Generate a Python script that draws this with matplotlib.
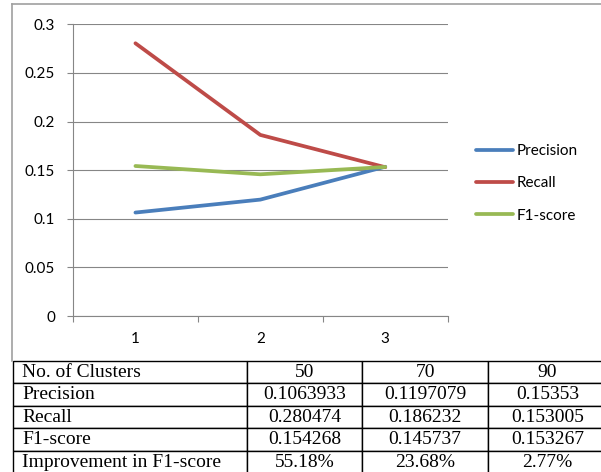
import matplotlib
matplotlib.use('Agg')
import matplotlib.pyplot as plt
from matplotlib.lines import Line2D

# dados
pontos_x = [1, 2, 3]
clusters = ['50', '70', '90']
precisao = [0.1063933, 0.1197079, 0.15353]
recall = [0.280474, 0.186232, 0.153005]
f1 = [0.154268, 0.145737, 0.153267]
melhoria = ['55.18%', '23.68%', '2.77%']
series = ['Precision', 'Recall', 'F1-score']
cores = ['#4a7ebb', '#be4b48', '#98b954']

W, H = 601, 472
fig = plt.figure(figsize=(W / 100, H / 100), dpi=100)

def px(x0, y0, x1, y1):
    # converte caixa em pixels (topo-esquerda) para coordenadas da figura
    return [x0 / W, 1 - y1 / H, (x1 - x0) / W, (y1 - y0) / H]

cinza = '#868686'
fonte = 'Lato'

# moldura do grafico
fig.add_artist(Line2D([12 / W, 12 / W], [1 - 361 / H, 1 - 4 / H], color='#a0a0a0', lw=1.2))
fig.add_artist(Line2D([12 / W, 1], [1 - 4 / H, 1 - 4 / H], color='#a0a0a0', lw=1.2))

ax = fig.add_axes(px(73, 24.3, 447.7, 316))
linhas = []
for valores, nome, cor in zip([precisao, recall, f1], series, cores):
    l, = ax.plot(pontos_x, valores, color=cor, lw=2.7, solid_capstyle='round',
                 solid_joinstyle='round', label=nome)
    linhas.append(l)

ax.set_xlim(0.5, 3.5)
ax.set_ylim(0, 0.3)
ax.set_yticks([0, 0.05, 0.1, 0.15, 0.2, 0.25, 0.3])
ax.set_yticklabels(['0', '0.05', '0.1', '0.15', '0.2', '0.25', '0.3'])
ax.set_xticks(pontos_x)
ax.set_xticks([0.5, 1.5, 2.5, 3.5], minor=True)
ax.grid(axis='y', color=cinza, lw=0.8)
ax.set_axisbelow(True)
for lado in ['top', 'right']:
    ax.spines[lado].set_visible(False)
for lado in ['left', 'bottom']:
    ax.spines[lado].set_color(cinza)
    ax.spines[lado].set_linewidth(0.8)
ax.tick_params(axis='y', length=4, width=0.8, color=cinza, pad=9, labelsize=11)
ax.tick_params(axis='x', which='major', length=0, pad=11.5, labelsize=11)
ax.tick_params(axis='x', which='minor', length=4, width=0.8, color=cinza)
for t in ax.get_xticklabels() + ax.get_yticklabels():
    t.set_fontfamily(fonte)

fig.legend(handles=linhas, loc='center left', bbox_to_anchor=(476 / W, 1 - 183.5 / H),
           frameon=False, borderpad=0, borderaxespad=0, handlelength=2.45,
           handletextpad=0.2, labelspacing=1.2, prop={'family': fonte, 'size': 11})

# tabela de resultados
axt = fig.add_axes(px(12.5, 361, 607, 473.5))
axt.axis('off')
texto = [['No. of Clusters'] + clusters,
         ['Precision'] + [str(v) for v in precisao],
         ['Recall'] + [str(v) for v in recall],
         ['F1-score'] + [str(v) for v in f1],
         ['Improvement in F1-score'] + melhoria]
larguras = [234.8, 114.7, 126, 119]
tot = sum(larguras)
tab = axt.table(cellText=texto, bbox=[0, 0, 1, 1], colWidths=[w / tot for w in larguras])
tab.auto_set_font_size(False)
for (r, c), cel in tab.get_celld().items():
    cel.set_edgecolor('black')
    cel.set_linewidth(1.0)
    cel.get_text().set_fontfamily('Liberation Serif')
    cel.get_text().set_fontsize(14)
    if c == 0:
        cel.PAD = 0.04
        cel.get_text().set_horizontalalignment('left')
    else:
        cel.get_text().set_horizontalalignment('center')

fig.savefig('out.png', dpi=100)
